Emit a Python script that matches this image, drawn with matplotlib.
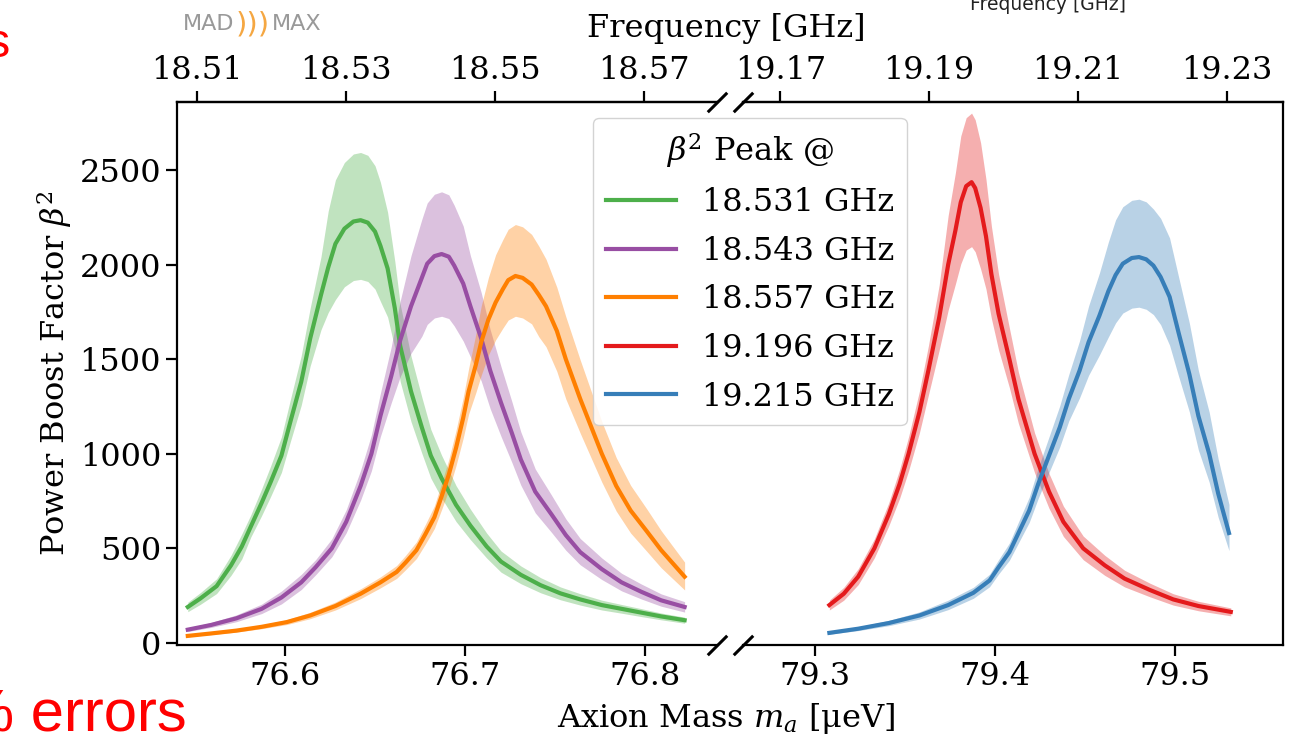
import matplotlib
matplotlib.use("Agg")
import matplotlib.pyplot as plt

plt.rcParams['font.family'] = 'DejaVu Serif'
plt.rcParams['mathtext.fontset'] = 'dejavuserif'

# conversion axion mass [ueV] -> frequency [GHz]
GHZ_PER_UEV = 0.241799

# green, peak @ 18.531 GHz
m_green = [76.546, 76.553, 76.562, 76.570, 76.576, 76.581, 76.587, 76.592, 76.598, 76.603,
           76.609, 76.614, 76.620, 76.624, 76.628, 76.633, 76.638, 76.642, 76.646, 76.650,
           76.653, 76.657, 76.661, 76.664, 76.670, 76.676, 76.681, 76.687, 76.695, 76.703,
           76.712, 76.720, 76.731, 76.742, 76.753, 76.764, 76.776, 76.787, 76.798, 76.809,
           76.822]
b_green = [190, 235, 300, 410, 510, 615, 740, 850, 990, 1170,
           1380, 1610, 1840, 1985, 2110, 2190, 2228, 2235, 2222, 2175,
           2100, 1980, 1770, 1570, 1330, 1140, 990, 870, 730, 620,
           510, 430, 360, 305, 262, 230, 200, 180, 160, 140,
           120]
lo_green = [165, 204, 261, 357, 444, 560, 673, 774, 901, 1065,
            1256, 1465, 1656, 1747, 1815, 1883, 1916, 1922, 1911, 1871,
            1806, 1723, 1558, 1382, 1170, 1003, 871, 766, 642, 546,
            449, 374, 313, 265, 228, 200, 174, 157, 139, 122,
            104]
hi_green = [215, 266, 339, 463, 576, 677, 814, 935, 1089, 1287,
            1518, 1771, 2042, 2283, 2448, 2540, 2585, 2593, 2578, 2523,
            2436, 2277, 2018, 1790, 1516, 1300, 1129, 992, 832, 707,
            581, 486, 407, 345, 296, 260, 226, 203, 181, 158,
            136]

# purple, peak @ 18.543 GHz
m_purple = [76.546, 76.559, 76.573, 76.587, 76.598, 76.609, 76.617, 76.626, 76.634, 76.642,
            76.648, 76.653, 76.659, 76.664, 76.670, 76.676, 76.679, 76.683, 76.687, 76.691,
            76.694, 76.699, 76.703, 76.709, 76.714, 76.720, 76.726, 76.731, 76.739, 76.748,
            76.756, 76.764, 76.776, 76.787, 76.798, 76.809, 76.822]
b_purple = [70, 95, 130, 180, 240, 320, 400, 500, 640, 830,
            1000, 1200, 1410, 1600, 1780, 1930, 2005, 2045, 2056, 2042,
            1995, 1900, 1780, 1610, 1440, 1270, 1110, 970, 800, 680,
            570, 480, 390, 320, 270, 225, 190]
lo_purple = [60, 82, 112, 155, 206, 282, 360, 455, 582, 755,
             910, 1092, 1269, 1408, 1531, 1621, 1684, 1718, 1727, 1715,
             1676, 1596, 1513, 1385, 1238, 1092, 955, 834, 688, 585,
             490, 413, 335, 275, 232, 194, 163]
hi_purple = [80, 108, 148, 205, 274, 362, 440, 550, 704, 913,
             1100, 1320, 1565, 1808, 2047, 2239, 2326, 2372, 2385, 2369,
             2314, 2204, 2047, 1852, 1656, 1461, 1277, 1116, 920, 782,
             656, 552, 449, 368, 311, 259, 218]

# orange, peak @ 18.557 GHz
m_orange = [76.546, 76.559, 76.573, 76.587, 76.601, 76.614, 76.628, 76.642, 76.653, 76.662,
            76.667, 76.673, 76.678, 76.683, 76.687, 76.691, 76.695, 76.699, 76.702, 76.706,
            76.709, 76.713, 76.717, 76.721, 76.724, 76.728, 76.732, 76.737, 76.741, 76.745,
            76.751, 76.756, 76.764, 76.776, 76.784, 76.792, 76.801, 76.809, 76.822]
b_orange = [37, 50, 65, 85, 110, 145, 195, 260, 320, 375,
            425, 490, 575, 665, 775, 890, 1030, 1190, 1330, 1470,
            1590, 1710, 1800, 1870, 1918, 1940, 1930, 1895, 1840, 1780,
            1650, 1500, 1290, 1000, 830, 700, 590, 490, 350]
lo_orange = [32, 44, 57, 75, 97, 128, 174, 234, 291, 341,
             387, 446, 523, 605, 705, 810, 937, 1083, 1210, 1323,
             1415, 1522, 1602, 1664, 1707, 1727, 1718, 1687, 1619, 1566,
             1436, 1290, 1109, 850, 697, 581, 484, 397, 280]
hi_orange = [42, 56, 73, 95, 123, 162, 216, 286, 349, 409,
             463, 534, 627, 725, 845, 970, 1123, 1297, 1450, 1632,
             1781, 1932, 2052, 2132, 2187, 2212, 2200, 2160, 2098, 2029,
             1881, 1725, 1496, 1170, 980, 833, 708, 593, 427]

# red, peak @ 19.196 GHz
m_red = [79.308, 79.316, 79.324, 79.333, 79.341, 79.347, 79.352, 79.358, 79.363, 79.369,
         79.374, 79.378, 79.381, 79.384, 79.387, 79.389, 79.392, 79.395, 79.398, 79.402,
         79.408, 79.413, 79.422, 79.430, 79.438, 79.449, 79.461, 79.472, 79.486, 79.499,
         79.513, 79.531]
b_red = [200, 260, 350, 500, 680, 840, 1000, 1220, 1440, 1720,
         2000, 2180, 2330, 2415, 2436, 2405, 2300, 2150, 1950, 1740,
         1500, 1290, 1000, 800, 640, 500, 410, 340, 280, 230,
         195, 164]
lo_red = [174, 226, 308, 450, 619, 764, 910, 1110, 1310, 1548,
          1760, 1897, 2004, 2077, 2095, 2068, 1978, 1871, 1716, 1549,
          1350, 1161, 900, 712, 563, 440, 357, 296, 244, 200,
          170, 143]
hi_red = [226, 294, 392, 550, 741, 916, 1090, 1330, 1570, 1892,
          2260, 2485, 2680, 2777, 2801, 2766, 2645, 2451, 2204, 1949,
          1665, 1432, 1110, 896, 723, 565, 463, 384, 316, 260,
          220, 185]

# blue, peak @ 19.215 GHz
m_blue = [79.308, 79.324, 79.341, 79.358, 79.374, 79.388, 79.397, 79.402, 79.408, 79.413,
          79.419, 79.424, 79.430, 79.436, 79.441, 79.447, 79.452, 79.458, 79.463, 79.467,
          79.471, 79.476, 79.480, 79.484, 79.488, 79.492, 79.497, 79.502, 79.508, 79.513,
          79.519, 79.524, 79.530]
b_blue = [53, 75, 105, 145, 200, 265, 330, 400, 480, 580,
          700, 840, 990, 1140, 1290, 1440, 1590, 1730, 1860, 1945,
          2005, 2035, 2040, 2028, 1995, 1935, 1830, 1640, 1420, 1200,
          1000, 790, 581]
lo_blue = [46, 65, 91, 126, 176, 236, 297, 364, 437, 528,
           637, 764, 901, 1037, 1174, 1296, 1415, 1522, 1618, 1692,
           1744, 1770, 1775, 1764, 1736, 1683, 1574, 1410, 1221, 1020,
           850, 664, 488]
hi_blue = [60, 85, 119, 164, 226, 294, 363, 440, 528, 638,
           770, 924, 1089, 1254, 1419, 1598, 1781, 1955, 2120, 2237,
           2306, 2340, 2346, 2332, 2294, 2245, 2141, 1935, 1690, 1440,
           1220, 972, 732]

peak_labels = ['18.531 GHz', '18.543 GHz', '18.557 GHz', '19.196 GHz', '19.215 GHz']
colors = ['#4daf4a', '#984ea3', '#ff7f00', '#e41a1c', '#377eb8']

yticks = [0, 500, 1000, 1500, 2000, 2500]
ticks_left_m = [76.6, 76.7, 76.8]
ticks_right_m = [79.3, 79.4, 79.5]
ticks_left_f = [18.51, 18.53, 18.55, 18.57]
ticks_right_f = [19.17, 19.19, 19.21, 19.23]


def m2f(m):
    return m * GHZ_PER_UEV


def f2m(f):
    return f / GHZ_PER_UEV


def style_axis(ax):
    for s in ax.spines.values():
        s.set_linewidth(1.6)
    ax.tick_params(direction='out', length=8, width=1.6, labelsize=23)


def brokenplot():
    fig = plt.figure(figsize=(12.91, 7.40), dpi=100)
    ax1 = fig.add_axes([0.1371, 0.1284, 0.4183, 0.7338])
    ax2 = fig.add_axes([0.5755, 0.1284, 0.4183, 0.7338], sharey=ax1)

    curves = [(ax1, m_green, b_green, lo_green, hi_green),
              (ax1, m_purple, b_purple, lo_purple, hi_purple),
              (ax1, m_orange, b_orange, lo_orange, hi_orange),
              (ax2, m_red, b_red, lo_red, hi_red),
              (ax2, m_blue, b_blue, lo_blue, hi_blue)]
    handles = []
    for (ax, m, b, lo, hi), col, lab in zip(curves, colors, peak_labels):
        ax.fill_between(m, lo, hi, color=col, alpha=0.35, lw=0)
        h, = ax.plot(m, b, color=col, lw=3, label=lab, solid_joinstyle='round')
        handles.append(h)

    ax1.set_xlim(76.54, 76.84)
    ax2.set_xlim(79.26, 79.56)
    ax1.set_ylim(-11, 2860)
    ax1.set_yticks(yticks)
    ax1.set_xticks(ticks_left_m)
    ax2.set_xticks(ticks_right_m)
    ax1.set_ylabel(r'Power Boost Factor $\beta^2$', fontsize=23)

    ax1.spines['right'].set_visible(False)
    ax2.spines['left'].set_visible(False)
    ax2.tick_params(axis='y', left=False, labelleft=False)
    style_axis(ax1)
    style_axis(ax2)

    # frequency axis on top
    for ax, ft in [(ax1, ticks_left_f), (ax2, ticks_right_f)]:
        sec = ax.secondary_xaxis('top', functions=(m2f, f2m))
        sec.set_xticks(ft)
        sec.set_xticklabels(['%.2f' % f for f in ft])
        style_axis(sec)

    # break marks
    kw = dict(marker=[(-1, -1), (1, 1)], markersize=14, linestyle='none',
              color='k', mec='k', mew=2.2, clip_on=False)
    ax1.plot([1, 1], [0, 1], transform=ax1.transAxes, **kw)
    ax2.plot([0, 0], [0, 1], transform=ax2.transAxes, **kw)

    fig.text(726 / 1291, 1 - 718 / 740, r'Axion Mass $m_a$ [μeV]', ha='center', va='center', fontsize=23)
    fig.text(726 / 1291, 1 - 28 / 740, 'Frequency [GHz]', ha='center', va='center', fontsize=23)

    fig.legend(handles, peak_labels, title=r'$\beta^2$ Peak @', loc='upper left',
               bbox_to_anchor=(593 / 1291, 1 - 118 / 740), borderaxespad=0,
               fontsize=23, title_fontsize=23, handlelength=2.2, labelspacing=0.55,
               borderpad=0.4, framealpha=0.85, edgecolor='#cccccc', fancybox=True)

    # slide leftovers around the plot
    fig.text(10 / 1291, 1 - 57 / 740, 's', color='red', fontsize=35, ha='right',
             va='baseline', family='Liberation Sans')
    fig.text(187 / 1291, 1 - 732 / 740, '% errors', color='red', fontsize=43, ha='right',
             va='baseline', family='Liberation Sans')
    fig.text(970 / 1291, 1 - 10 / 740, 'Frequency [GHz]', fontsize=13.5, ha='left',
             va='baseline', family='DejaVu Sans', color='#222222')
    fig.text(209 / 1291, 1 - 30 / 740, 'MAD', color='#999999', fontsize=16, ha='center',
             va='baseline', family='DejaVu Sans')
    fig.text(253 / 1291, 1 - 33 / 740, ')))', color='#f5a742', fontsize=21, ha='center',
             va='baseline', family='DejaVu Sans')
    fig.text(297 / 1291, 1 - 30 / 740, 'MAX', color='#999999', fontsize=16, ha='center',
             va='baseline', family='DejaVu Sans')

    fig.savefig('out.png', dpi=100)
    return


if __name__ == "__main__":
    brokenplot()
